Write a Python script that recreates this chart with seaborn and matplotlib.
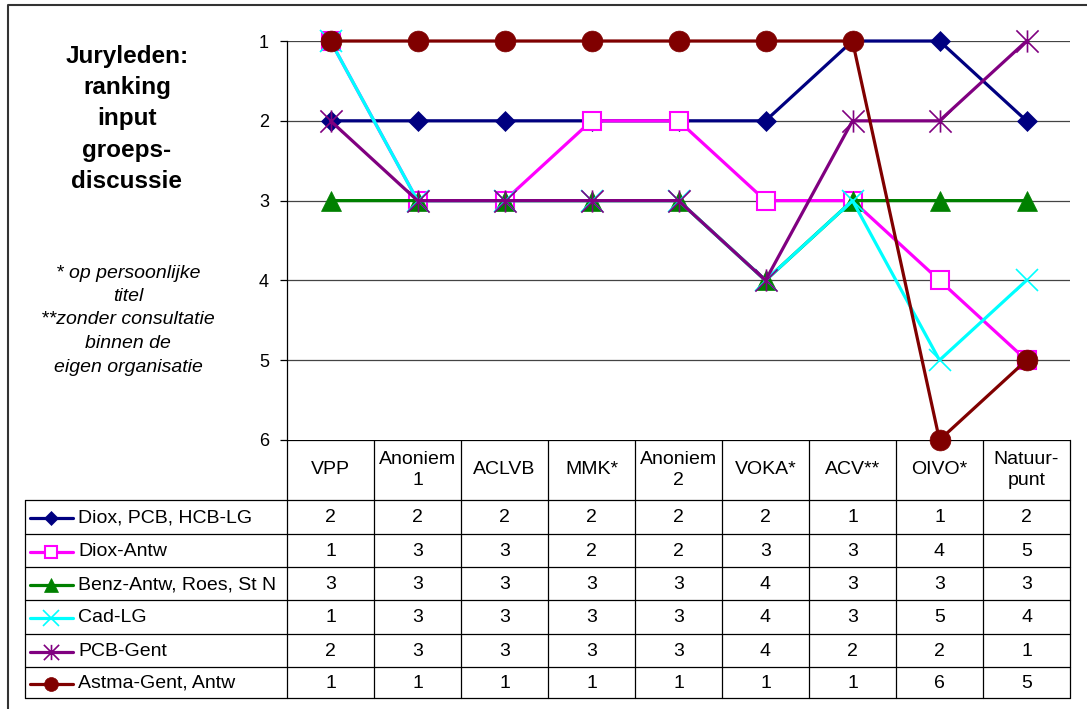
import numpy as np
import pandas as pd
import seaborn as sns
import matplotlib
matplotlib.use('Agg')
import matplotlib.pyplot as plt
from matplotlib.path import Path

# categorieen (kolommen van de tabel)
organisaties = ['VPP', 'Anoniem\n1', 'ACLVB', 'MMK*', 'Anoniem\n2', 'VOKA*', 'ACV**', 'OIVO*', 'Natuur-\npunt']

# reeksen (juryleden)
reeksen = ['Diox, PCB, HCB-LG', 'Diox-Antw', 'Benz-Antw, Roes, St N', 'Cad-LG', 'PCB-Gent', 'Astma-Gent, Antw']
diox_pcb_hcb_lg = [2, 2, 2, 2, 2, 2, 1, 1, 2]
diox_antw = [1, 3, 3, 2, 2, 3, 3, 4, 5]
benz_antw = [3, 3, 3, 3, 3, 4, 3, 3, 3]
cad_lg = [1, 3, 3, 3, 3, 4, 3, 5, 4]
pcb_gent = [2, 3, 3, 3, 3, 4, 2, 2, 1]
astma_gent = [1, 1, 1, 1, 1, 1, 1, 6, 5]
waarden = [diox_pcb_hcb_lg, diox_antw, benz_antw, cad_lg, pcb_gent, astma_gent]

rangen = [1, 2, 3, 4, 5, 6]

# lange tabel voor seaborn
df = pd.DataFrame({
    'reeks': np.repeat(reeksen, len(organisaties)),
    'pos': np.tile(np.arange(len(organisaties)), len(reeksen)),
    'rang': np.concatenate(waarden),
})

# sterretje zoals in Excel: verticaal + twee diagonalen
asterisk = Path([(0, -1), (0, 1), (-1, -1), (1, 1), (-1, 1), (1, -1)],
                [Path.MOVETO, Path.LINETO] * 3)

stijlen = {
    'Diox, PCB, HCB-LG': dict(color='#000080', marker='D', ms=10, mfc='#000080', mew=0.5),
    'Diox-Antw': dict(color='#FF00FF', marker='s', ms=13, mfc='white', mew=1.5),
    'Benz-Antw, Roes, St N': dict(color='#008000', marker='^', ms=15, mfc='#008000', mew=0.5),
    'Cad-LG': dict(color='#00FFFF', marker='x', ms=16, mfc='none', mew=1.2),
    'PCB-Gent': dict(color='#800080', marker=asterisk, ms=16, mfc='none', mew=1.2),
    'Astma-Gent, Antw': dict(color='#800000', marker='o', ms=15, mfc='#800000', mew=0.5),
}

sns.set_style('white')
plt.rcParams['font.family'] = ['Liberation Sans', 'DejaVu Sans']
plt.rcParams['text.color'] = 'black'

W, H = 1087, 709
fig = plt.figure(figsize=(W / 100, H / 100), dpi=100)

# pixelgrenzen van het grafiekgebied
x0, x1 = 287, 1070
y_top, y_bot = 41, 440
ax = fig.add_axes([x0 / W, 1 - y_bot / H, (x1 - x0) / W, (y_bot - y_top) / H])

for naam in reeksen:
    st = stijlen[naam]
    sns.lineplot(data=df[df['reeks'] == naam], x='pos', y='rang', ax=ax,
                 color=st['color'], linewidth=2.3, marker=st['marker'],
                 markersize=st['ms'], markerfacecolor=st['mfc'],
                 markeredgecolor=st['color'], markeredgewidth=st['mew'],
                 sort=False, errorbar=None, legend=False, clip_on=False, zorder=3)

ax.set_xlim(-0.5, len(organisaties) - 0.5)
ax.set_ylim(6, 1)
ax.set_yticks(rangen)
ax.set_yticklabels([str(r) for r in rangen], fontsize=13)
ax.set_xticks([])
ax.set_xlabel('')
ax.set_ylabel('')
for r in rangen[:-1]:
    ax.axhline(r, color='#444444', linewidth=0.9, zorder=1)
for s in ['top', 'right', 'bottom']:
    ax.spines[s].set_visible(False)
ax.spines['left'].set_color('black')
ax.spines['left'].set_linewidth(0.9)
ax.tick_params(axis='y', direction='out', length=5, width=0.9, pad=8, left=True, colors='black')

# overlay in pixelcoordinaten voor tabel en teksten
ov = fig.add_axes([0, 0, 1, 1], zorder=-1)
ov.set_xlim(0, W)
ov.set_ylim(H, 0)
ov.axis('off')

# buitenkader
ov.plot([8, 8, W + 5], [H + 5, 5, 5], color='#333333', linewidth=1.5)

kol_w = (x1 - x0) / len(organisaties)
rij_y = [500, 534, 567, 600, 634, 667, 698]
lw_tab = 0.9
fs_tab = 14

# kopregel
ov.plot([x0, x1], [y_bot, y_bot], color='black', linewidth=lw_tab)
for i in range(len(organisaties) + 1):
    ov.plot([x0 + i * kol_w] * 2, [y_bot, rij_y[-1]], color='black', linewidth=lw_tab)
for i, org in enumerate(organisaties):
    ov.text(x0 + (i + 0.5) * kol_w, (y_bot + rij_y[0]) / 2, org, ha='center', va='center',
            fontsize=fs_tab, linespacing=1.3)

# rijen
for y in rij_y:
    ov.plot([25, x1], [y, y], color='black', linewidth=lw_tab)
ov.plot([25, 25], [rij_y[0], rij_y[-1]], color='black', linewidth=lw_tab)

leg_ms = {'D': 7, 's': 9, '^': 10, 'x': 11, 'o': 10}
for j, naam in enumerate(reeksen):
    st = stijlen[naam]
    yc = (rij_y[j] + rij_y[j + 1]) / 2 + 1
    ms = 11 if st['marker'] is asterisk else leg_ms[st['marker']]
    ov.plot([30, 51, 73], [yc, yc, yc], color=st['color'], linewidth=2.3,
            marker=st['marker'], markevery=[1], markersize=ms,
            markerfacecolor=st['mfc'], markeredgecolor=st['color'], markeredgewidth=st['mew'])
    ov.text(78, yc, naam, ha='left', va='center', fontsize=fs_tab)
    for i, v in enumerate(waarden[j]):
        ov.text(x0 + (i + 0.5) * kol_w, yc, str(v), ha='center', va='center', fontsize=fs_tab)

# titel en voetnoten links
ov.text(127, 119, 'Juryleden:\nranking\ninput\ngroeps-\ndiscussie', ha='center', va='center',
        fontsize=17.5, fontweight='bold', linespacing=1.46)
ov.text(128, 320, '* op persoonlijke\ntitel\n**zonder consultatie\nbinnen de\neigen organisatie',
        ha='center', va='center', fontsize=14, fontstyle='italic', linespacing=1.5)

fig.savefig('out.png', dpi=100)
